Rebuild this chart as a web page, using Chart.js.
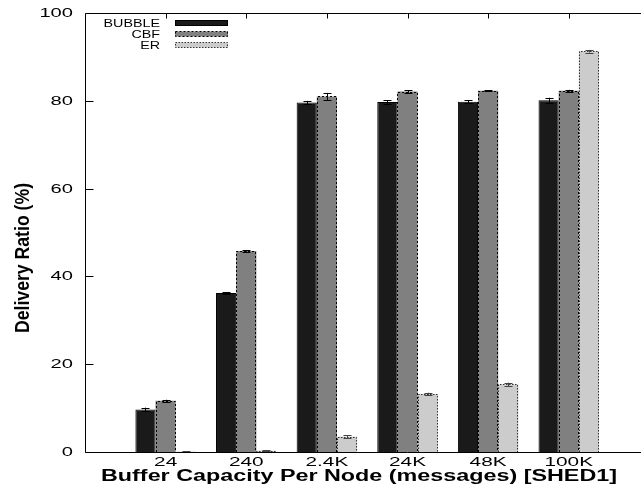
<!DOCTYPE html>
<html>
<head>
<meta charset="utf-8">
<script src="https://cdn.jsdelivr.net/npm/chart.js@4"></script>
<style>
  html, body { margin: 0; padding: 0; background: #fff; overflow: hidden; width: 641px; height: 489px; }
  #wrap { width: 730px; height: 489px; }
</style>
</head>
<body>
<div id="wrap"><canvas id="c" width="730" height="489"></canvas></div>
<script>
// ---- data ----
const categories = ['24', '240', '2.4K', '24K', '48K', '100K'];
const seriesNames = ['BUBBLE', 'CBF', 'ER'];
const bubble = [9.7, 36.2, 79.6, 79.7, 79.8, 80.1];
const cbf = [11.7, 45.8, 81.0, 82.1, 82.3, 82.3];
const er = [0.1, 0.3, 3.5, 13.2, 15.4, 91.3];
const bubbleErr = [0.4, 0.2, 0.4, 0.4, 0.3, 0.6];
const cbfErr = [0.2, 0.2, 0.8, 0.3, 0.1, 0.2];
const erErr = [0.05, 0.1, 0.3, 0.3, 0.4, 0.3];
const yTicks = [0, 20, 40, 60, 80, 100];
const xTitle = 'Buffer Capacity Per Node (messages) [SHED1]';
const yTitle = 'Delivery Ratio (%)';

// x range runs from one slot before the first category to beyond the visible edge
const pad = arr => [null, ...arr, null, null];
const labels = ['', ...categories, '', ''];

const FONT = '"Liberation Sans", Arial, Helvetica, sans-serif';

function sText(ctx, text, x, y, sx, sy, align, baseline) {
  ctx.save();
  ctx.translate(x, y);
  ctx.scale(sx, sy);
  ctx.textAlign = align;
  ctx.textBaseline = baseline;
  ctx.fillText(text, 0, 0);
  ctx.restore();
}

const decor = {
  id: 'decor',
  afterDatasetsDraw(chart) {
    const ctx = chart.ctx;
    const xs = chart.scales.x, ys = chart.scales.y;
    const area = chart.chartArea;

    // dashed / dotted bar outlines and error bars
    chart.data.datasets.forEach((ds, i) => {
      const meta = chart.getDatasetMeta(i);
      meta.data.forEach((bar, j) => {
        const v = ds.data[j];
        if (v == null) return;
        const p = bar.getProps(['x', 'y', 'base', 'width'], true);
        const l = Math.round(p.x - p.width / 2) + 0.5;
        const r = Math.round(p.x + p.width / 2) - 0.5;
        if (ds.outlineDash) {
          ctx.save();
          ctx.setLineDash(ds.outlineDash);
          ctx.strokeStyle = ds.outlineColor;
          ctx.lineWidth = 1;
          ctx.beginPath();
          ctx.moveTo(l, p.base);
          ctx.lineTo(l, Math.round(p.y) + 0.5);
          ctx.lineTo(r, Math.round(p.y) + 0.5);
          ctx.lineTo(r, p.base);
          ctx.stroke();
          ctx.restore();
        }
        const e = ds.errors[j];
        if (e != null) {
          const yt = ys.getPixelForValue(v + e);
          const yb = ys.getPixelForValue(Math.max(0, v - e));
          const cx = Math.round(p.x) + 0.5;
          ctx.save();
          ctx.strokeStyle = ds.errColor;
          ctx.lineWidth = 1;
          ctx.beginPath();
          ctx.moveTo(cx, yt); ctx.lineTo(cx, yb);
          ctx.moveTo(cx - 4, Math.round(yt) + 0.5); ctx.lineTo(cx + 4, Math.round(yt) + 0.5);
          ctx.moveTo(cx - 4, Math.round(yb) + 0.5); ctx.lineTo(cx + 4, Math.round(yb) + 0.5);
          ctx.stroke();
          ctx.restore();
        }
      });
    });

    // frame
    ctx.save();
    ctx.strokeStyle = '#000';
    ctx.lineWidth = 1;
    ctx.beginPath();
    const L = Math.round(area.left) + 0.5, T = Math.round(area.top) + 0.5, B = Math.round(area.bottom) + 0.5;
    ctx.moveTo(area.right, T); ctx.lineTo(L, T); ctx.lineTo(L, B); ctx.lineTo(area.right, B);
    // y tick marks (inward)
    yTicks.forEach(t => {
      const yy = Math.round(ys.getPixelForValue(t)) + 0.5;
      ctx.moveTo(L, yy); ctx.lineTo(L + 8, yy);
    });
    // top mirrored x ticks
    categories.forEach((c, k) => {
      const xx = Math.round(xs.getPixelForValue(k + 1)) + 0.5;
      ctx.moveTo(xx, T); ctx.lineTo(xx, T + 5);
    });
    ctx.stroke();
    ctx.restore();

    ctx.save();
    ctx.fillStyle = '#000';
    // y tick labels
    ctx.font = '13px ' + FONT;
    yTicks.forEach(t => {
      sText(ctx, String(t), 73, ys.getPixelForValue(t) + 0.5, 1.55, 1, 'right', 'middle');
    });
    // x tick labels
    categories.forEach((c, k) => {
      sText(ctx, c, xs.getPixelForValue(k + 1), 466, 1.6, 1, 'center', 'alphabetic');
    });
    // x title
    ctx.font = 'bold 16px ' + FONT;
    const wx = ctx.measureText(xTitle).width;
    sText(ctx, xTitle, 359, 481, 516 / wx, 1, 'center', 'alphabetic');
    // y title (rotated)
    ctx.font = 'bold 13px ' + FONT;
    const wy = ctx.measureText(yTitle).width;
    ctx.save();
    ctx.translate(29, 258);
    ctx.rotate(-Math.PI / 2);
    ctx.scale(150 / wy, 1.5);
    ctx.textAlign = 'center';
    ctx.textBaseline = 'alphabetic';
    ctx.fillText(yTitle, 0, 0);
    ctx.restore();

    // legend
    ctx.font = '11px ' + FONT;
    const rows = [23, 34, 45];
    chart.data.datasets.forEach((ds, i) => {
      const cy = rows[i];
      sText(ctx, ds.label, 160, cy + 4, 1.3, 1, 'right', 'alphabetic');
      ctx.save();
      ctx.fillStyle = ds.backgroundColor;
      ctx.fillRect(175, cy - 2.5, 53, 5);
      ctx.strokeStyle = ds.outlineColor || '#000';
      ctx.lineWidth = 1;
      if (ds.outlineDash) ctx.setLineDash(ds.outlineDash);
      ctx.strokeRect(175.5, cy - 2.5, 52, 5);
      ctx.restore();
    });
    ctx.restore();
  }
};

new Chart(document.getElementById('c'), {
  type: 'bar',
  data: {
    labels: labels,
    datasets: [
      { label: seriesNames[0], data: pad(bubble), errors: pad(bubbleErr),
        backgroundColor: '#1a1a1a', borderColor: '#000', borderWidth: 1, borderSkipped: 'bottom',
        errColor: '#000' },
      { label: seriesNames[1], data: pad(cbf), errors: pad(cbfErr),
        backgroundColor: '#808080', borderWidth: 0, outlineDash: [2, 2], outlineColor: '#000',
        errColor: '#000' },
      { label: seriesNames[2], data: pad(er), errors: pad(erErr),
        backgroundColor: '#cccccc', borderWidth: 0, outlineDash: [1.5, 1.5], outlineColor: '#333',
        errColor: '#444' }
    ]
  },
  options: {
    responsive: false,
    animation: false,
    devicePixelRatio: 1,
    layout: { padding: { left: 85, top: 13, right: 0, bottom: 37 } },
    plugins: { legend: { display: false }, tooltip: { enabled: false } },
    datasets: { bar: { categoryPercentage: 0.75, barPercentage: 1.0 } },
    scales: {
      x: { display: false, offset: false, grid: { display: false } },
      y: { display: false, min: 0, max: 100, grid: { display: false } }
    }
  },
  plugins: [decor]
});
</script>
</body>
</html>
